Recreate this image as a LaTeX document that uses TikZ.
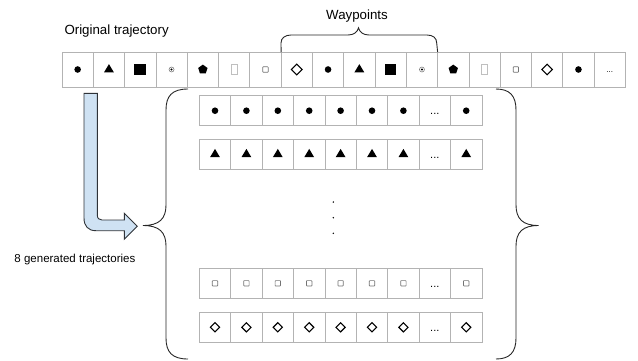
\documentclass[tikz,border=0pt]{standalone}
\usepackage{fontspec}
\setmainfont{Liberation Sans}
\definecolor{cellline}{HTML}{B3B3B3}
\definecolor{arrowfill}{HTML}{CFE2F3}
\definecolor{arrowline}{HTML}{2F3338}
\begin{document}
\begin{tikzpicture}[x=1bp,y=-1bp,
  cellT/.style={draw=cellline,line width=0.8bp,minimum width=31.3bp,minimum height=35bp,inner sep=0,outer sep=0},
  cellR/.style={draw=cellline,line width=0.8bp,minimum width=31.4bp,minimum height=30bp,inner sep=0,outer sep=0},
  bracepath/.style={draw=black!85,line width=0.9bp},
  pdot/.pic={\fill (0,0) circle (3.3);},
  ptri/.pic={\fill (0,-5.4) -- (4.9,2.8) -- (-4.9,2.8) -- cycle;},
  psq/.pic={\fill (-5.8,-5.8) rectangle (5.8,5.8);},
  pcdot/.pic={\draw[gray,line width=0.6bp] (0,0) circle (2.5); \fill (0,0) circle (1.1);},
  ppent/.pic={\fill (0,-4.9) -- (4.66,-1.51) -- (2.88,3.96) -- (-2.88,3.96) -- (-4.66,-1.51) -- cycle;},
  prect/.pic={\draw[black!25,line width=0.7bp] (-2.9,-4.9) rectangle (2.9,4.9);},
  psmall/.pic={\draw[black!55,line width=0.7bp,rounded corners=0.6bp] (-2.7,-2.7) rectangle (2.7,2.7);},
  pdia/.pic={\draw[line width=1.1bp] (0,-5.3) -- (5.3,0) -- (0,5.3) -- (-5.3,0) -- cycle;},
  pdiab/.pic={\draw[line width=1.1bp] (0,-4.6) -- (4.6,0) -- (0,4.6) -- (-4.6,0) -- cycle;},
  pdotsT/.pic={\node[inner sep=0,font=\fontsize{8bp}{9bp}\selectfont,anchor=base] at (0,2.5) {...};},
  pdotsR/.pic={\node[inner sep=0,font=\fontsize{11bp}{12bp}\selectfont,anchor=base] at (0,4) {...};}
]
\useasboundingbox (0,0) rectangle (638,360);

% labels
\node[anchor=base west,inner sep=0,font=\fontsize{13.3bp}{16bp}\selectfont] (orig) at (64.3,34.7) {Original trajectory};
\node[anchor=base,inner sep=0,font=\fontsize{13.3bp}{16bp}\selectfont] (wayp) at (357,19.6) {Waypoints};
\node[anchor=base west,inner sep=0,font=\fontsize{11.5bp}{14bp}\selectfont] (gen) at (14.3,262.3) {8 generated trajectories};

% top row
\foreach \s [count=\i] in {pdot,ptri,psq,pcdot,ppent,prect,psmall,pdia,pdot,ptri,psq,pcdot,ppent,prect,psmall,pdia,pdot,pdotsT}{
  \node[cellT] (t\i) at ({62+31.3*(\i-0.5)},69.5) {};
  \pic at (t\i.center) {\s};
}

% generated rows
\foreach \r/\y/\s in {1/110.7/pdot,2/154.3/ptri,3/283.3/psmall,4/327.3/pdiab}{
  \foreach \j in {1,...,9}{
    \node[cellR] (r\r c\j) at ({199.3+31.4*(\j-0.5)},\y) {};
  }
  \foreach \j in {1,...,7,9}{
    \pic at (r\r c\j.center) {\s};
  }
  \pic at (r\r c8.center) {pdotsR};
}

% vertical dots
\foreach \y in {202,217.7,233.3}{
  \fill (333.3,\y) circle (0.8);
}

% waypoint brace
\draw[bracepath] (t8.north west) -- (281,43) .. controls (281,38) and (285,35) .. (291,35)
  -- (348,35) .. controls (354,35) and (357.5,32) .. (358.5,27.8)
  .. controls (359.5,32) and (363,35) .. (369,35) -- (427,35)
  .. controls (433,35) and (436.7,38) .. (436.7,43) -- (t12.north east);

% left big brace
\draw[bracepath] (188,89) .. controls (172,89) and (166,96) .. (166,110) -- (166,205)
  .. controls (166,219) and (159,225.5) .. (143,225.5)
  .. controls (159,225.5) and (166,232) .. (166,246) -- (166,338)
  .. controls (166,352) and (172,359) .. (188,359);

% right big brace
\draw[bracepath] (496,89) .. controls (510,89) and (516,96) .. (516,110) -- (516,205)
  .. controls (516,219) and (523,225.5) .. (538.5,225.5)
  .. controls (523,225.5) and (516,232) .. (516,246) -- (516,338)
  .. controls (516,352) and (510,359) .. (496,359);

% bent arrow
\draw[fill=arrowfill,draw=arrowline,line width=0.9bp,line join=miter]
  (84,93.3) -- (84,218) .. controls (84,226) and (88,230.7) .. (96,230.7)
  -- (124.3,230.7) -- (124.3,239.3) -- (137.3,226.3) -- (124.3,213.3) -- (124.3,220)
  -- (102,220) .. controls (99,220) and (97.3,218.3) .. (97.3,215) -- (97.3,93.3) -- cycle;
\end{tikzpicture}
\end{document}
